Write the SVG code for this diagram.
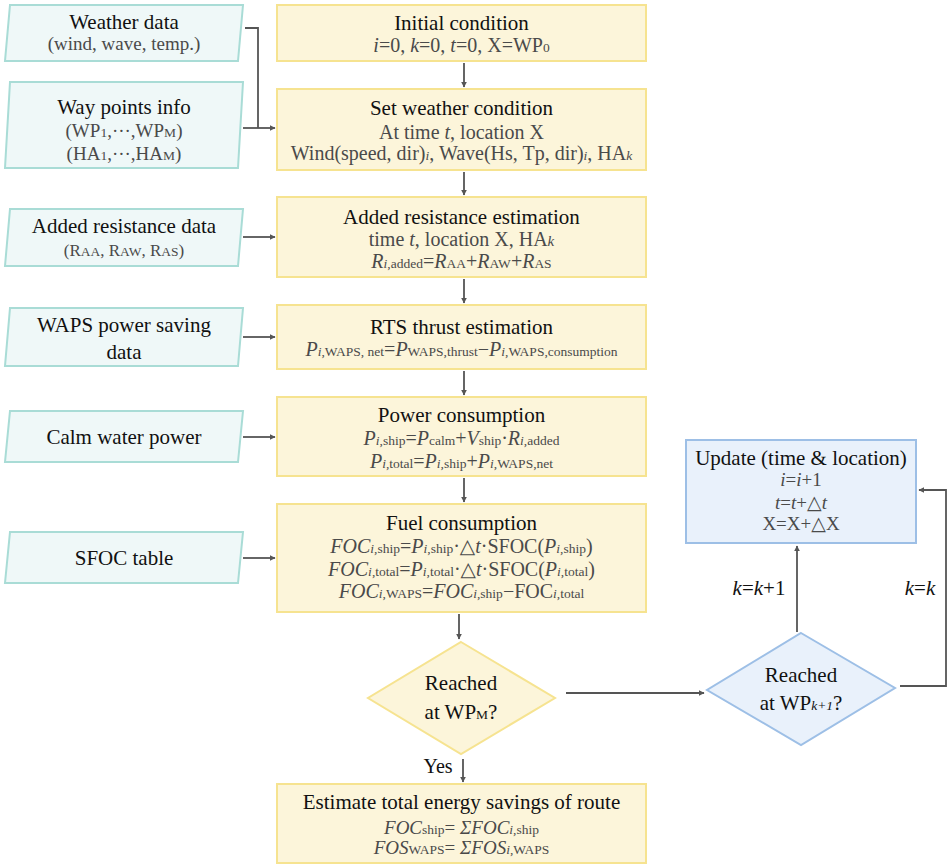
<svg xmlns="http://www.w3.org/2000/svg" width="950" height="868" viewBox="0 0 950 868" font-family="'Liberation Serif', 'DejaVu Serif', serif">
<defs>
<marker id="ah" viewBox="0 0 10 10" refX="9" refY="5" markerWidth="6" markerHeight="6" markerUnits="userSpaceOnUse" orient="auto">
<path d="M0,0 L10,5 L0,10 z" fill="#555"/>
</marker>
<style>
text{font-family:'Liberation Serif','DejaVu Serif',serif;text-anchor:middle}
.t{font-size:21px;fill:#111}
.b{font-size:20px;fill:#4a4a4a}
.c{font-size:19px;fill:#4a4a4a}
.s{font-size:13.5px}
.it{font-style:italic}
.yb{fill:#fcf5da;stroke:#f6e390;stroke-width:2}
.pg{fill:#eff8f8;stroke:#a9dcd6;stroke-width:2}
.bl{fill:#e9f1fb;stroke:#9dbfe6;stroke-width:2}
.ln{fill:none;stroke:#555;stroke-width:1.8}
.ar{marker-end:url(#ah)}
</style>
</defs>
<rect width="950" height="868" fill="#fff"/>

<g id="connectors">
<path class="ln" d="M245,28 H258 V128"/>
<path class="ln ar" d="M243,128 H275"/>
<path class="ln ar" d="M243,237 H275"/>
<path class="ln ar" d="M243,337 H275"/>
<path class="ln ar" d="M243,437 H275"/>
<path class="ln ar" d="M243,558 H275"/>
<path class="ln ar" d="M464,63 V87"/>
<path class="ln ar" d="M464,172 V195"/>
<path class="ln ar" d="M464,279 V303"/>
<path class="ln ar" d="M464,371 V395"/>
<path class="ln ar" d="M464,478 V502"/>
<path class="ln ar" d="M459,614 V639"/>
<path class="ln ar" d="M463,759 V782"/>
<path class="ln ar" d="M566,693 H704"/>
<path class="ln ar" d="M797,632 V546"/>
<path class="ln ar" d="M900,686 H946 V490 H919"/>
<text class="t" x="759" y="595"><tspan class="it">k</tspan>=<tspan class="it">k</tspan>+1</text>
<text class="t" x="920" y="595"><tspan class="it">k</tspan>=<tspan class="it">k</tspan></text>
<text class="t" x="438" y="773" style="font-size:20px">Yes</text>
</g>

<g id="weather-data">
<polygon class="pg" points="10,5 243,5 238,61 5,61"/>
<text class="t" x="124" y="29">Weather data</text>
<text class="c" x="124" y="50">(wind, wave, temp.)</text>
</g>

<g id="way-points">
<polygon class="pg" points="10,82 243,82 238,168 5,168"/>
<text class="t" x="124" y="114">Way points info</text>
<text class="c" x="124" y="137">(WP<tspan class="s">1</tspan>,···,WP<tspan class="s">M</tspan>)</text>
<text class="c" x="124" y="160">(HA<tspan class="s">1</tspan>,···,HA<tspan class="s">M</tspan>)</text>
</g>

<g id="added-resistance-data">
<polygon class="pg" points="10,209 243,209 238,266 5,266"/>
<text class="t" x="124" y="233">Added resistance data</text>
<text class="c" x="124" y="256" style="font-size:17px">(R<tspan class="s">AA</tspan>, R<tspan class="s">AW</tspan>, R<tspan class="s">AS</tspan>)</text>
</g>

<g id="waps-data">
<polygon class="pg" points="10,308 243,308 238,366 5,366"/>
<text class="t" x="124" y="332">WAPS power saving</text>
<text class="t" x="124" y="359">data</text>
</g>

<g id="calm-water">
<polygon class="pg" points="10,411 243,411 238,462 5,462"/>
<text class="t" x="124" y="444">Calm water power</text>
</g>

<g id="sfoc-table">
<polygon class="pg" points="10,532 243,532 238,583 5,583"/>
<text class="t" x="124" y="565">SFOC table</text>
</g>

<g id="initial-condition">
<rect class="yb" x="277" y="5" width="369" height="56"/>
<text class="t" x="461.5" y="30">Initial condition</text>
<text class="b" x="461.5" y="52"><tspan class="it">i</tspan>=0, <tspan class="it">k</tspan>=0, <tspan class="it">t</tspan>=0, X=WP<tspan class="s">0</tspan></text>
</g>

<g id="set-weather">
<rect class="yb" x="277" y="89" width="369" height="81"/>
<text class="t" x="461.5" y="115">Set weather condition</text>
<text class="b" x="461.5" y="139">At time <tspan class="it">t</tspan>, location X</text>
<text class="b" x="461.5" y="160">Wind(speed, dir)<tspan class="s it">i</tspan>, Wave(Hs, Tp, dir)<tspan class="s it">i</tspan>, HA<tspan class="s it">k</tspan></text>
</g>

<g id="added-resistance">
<rect class="yb" x="277" y="197" width="369" height="80"/>
<text class="t" x="461.5" y="224">Added resistance estimation</text>
<text class="b" x="461.5" y="246">time <tspan class="it">t</tspan>, location X, HA<tspan class="it" style="font-size:15px">k</tspan></text>
<text class="b" x="461.5" y="268"><tspan class="it">R</tspan><tspan class="s"><tspan class="it">i</tspan>,added</tspan>=<tspan class="it">R</tspan><tspan class="s">AA</tspan>+<tspan class="it">R</tspan><tspan class="s">AW</tspan>+<tspan class="it">R</tspan><tspan class="s">AS</tspan></text>
</g>

<g id="rts-thrust">
<rect class="yb" x="277" y="305" width="369" height="64"/>
<text class="t" x="461.5" y="334">RTS thrust estimation</text>
<text class="b" x="461.5" y="356"><tspan class="it">P</tspan><tspan class="s"><tspan class="it">i</tspan>,WAPS, net</tspan>=<tspan class="it">P</tspan><tspan class="s">WAPS,thrust</tspan>−<tspan class="it">P</tspan><tspan class="s"><tspan class="it">i</tspan>,WAPS,consumption</tspan></text>
</g>

<g id="power-consumption">
<rect class="yb" x="277" y="397" width="369" height="79"/>
<text class="t" x="461.5" y="422">Power consumption</text>
<text class="b" x="461.5" y="445"><tspan class="it">P</tspan><tspan class="s"><tspan class="it">i</tspan>,ship</tspan>=<tspan class="it">P</tspan><tspan class="s">calm</tspan>+<tspan class="it">V</tspan><tspan class="s">ship</tspan>·<tspan class="it">R</tspan><tspan class="s"><tspan class="it">i</tspan>,added</tspan></text>
<text class="b" x="461.5" y="468"><tspan class="it">P</tspan><tspan class="s"><tspan class="it">i</tspan>,total</tspan>=<tspan class="it">P</tspan><tspan class="s"><tspan class="it">i</tspan>,ship</tspan>+<tspan class="it">P</tspan><tspan class="s"><tspan class="it">i</tspan>,WAPS,net</tspan></text>
</g>

<g id="fuel-consumption">
<rect class="yb" x="277" y="504" width="369" height="108"/>
<text class="t" x="461.5" y="530">Fuel consumption</text>
<text class="b" x="461.5" y="553"><tspan class="it">FOC</tspan><tspan class="s"><tspan class="it">i</tspan>,ship</tspan>=<tspan class="it">P</tspan><tspan class="s"><tspan class="it">i</tspan>,ship</tspan>·△<tspan class="it">t</tspan>·SFOC(<tspan class="it">P</tspan><tspan class="s"><tspan class="it">i</tspan>,ship</tspan>)</text>
<text class="b" x="461.5" y="576"><tspan class="it">FOC</tspan><tspan class="s"><tspan class="it">i</tspan>,total</tspan>=<tspan class="it">P</tspan><tspan class="s"><tspan class="it">i</tspan>,total</tspan>·△<tspan class="it">t</tspan>·SFOC(<tspan class="it">P</tspan><tspan class="s"><tspan class="it">i</tspan>,total</tspan>)</text>
<text class="b" x="461.5" y="598"><tspan class="it">FOC</tspan><tspan class="s"><tspan class="it">i</tspan>,WAPS</tspan>=<tspan class="it">FOC</tspan><tspan class="s"><tspan class="it">i</tspan>,ship</tspan>−FOC<tspan class="s"><tspan class="it">i</tspan>,total</tspan></text>
</g>

<g id="reached-wpm">
<polygon class="yb" points="461,642 555,698 461,754 368,698"/>
<text class="t" x="461" y="690">Reached</text>
<text class="t" x="461" y="719">at WP<tspan class="s">M</tspan>?</text>
</g>

<g id="reached-wpk1">
<polygon class="bl" points="801,633 895,688 801,745 707,690"/>
<text class="t" x="801" y="682">Reached</text>
<text class="t" x="801" y="710">at WP<tspan class="s it">k+1</tspan>?</text>
</g>

<g id="update">
<rect class="bl" x="686" y="440" width="230" height="103"/>
<text class="t" x="801" y="465">Update (time &amp; location)</text>
<text class="c" x="801" y="486"><tspan class="it">i</tspan>=<tspan class="it">i</tspan>+1</text>
<text class="c" x="801" y="509"><tspan class="it">t</tspan>=<tspan class="it">t</tspan>+△<tspan class="it">t</tspan></text>
<text class="c" x="801" y="530">X=X+△X</text>
</g>

<g id="estimate-total">
<rect class="yb" x="277" y="784" width="369" height="79"/>
<text class="t" x="461.5" y="809">Estimate total energy savings of route</text>
<text class="c" x="461.5" y="834"><tspan class="it">FOC</tspan><tspan class="s">ship</tspan>= <tspan class="it">Σ</tspan><tspan class="it">FOC</tspan><tspan class="s"><tspan class="it">i</tspan>,ship</tspan></text>
<text class="c" x="461.5" y="854"><tspan class="it">FOS</tspan><tspan class="s">WAPS</tspan>= <tspan class="it">Σ</tspan><tspan class="it">FOS</tspan><tspan class="s"><tspan class="it">i</tspan>,WAPS</tspan></text>
</g>
</svg>
